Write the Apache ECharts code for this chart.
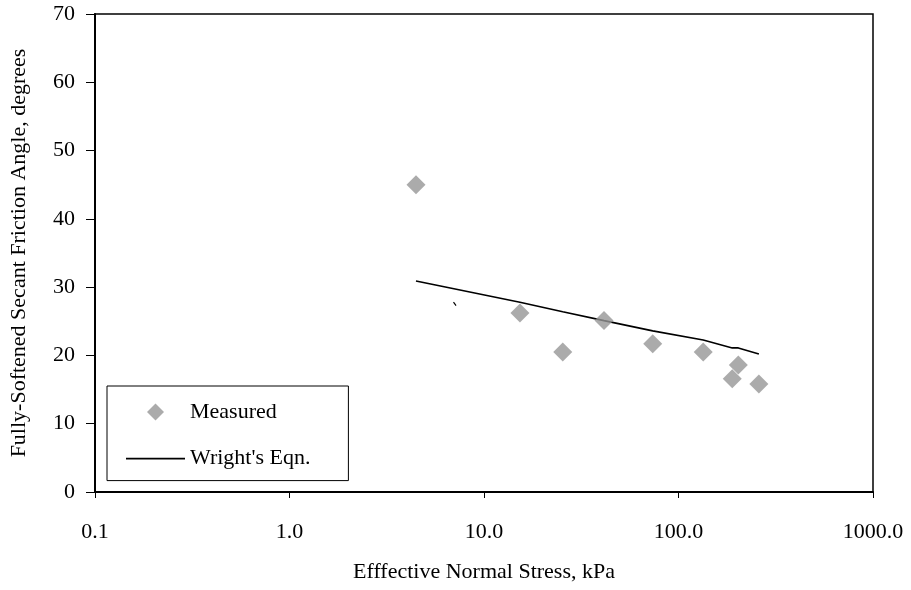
<!DOCTYPE html>
<html>
<head>
<meta charset="utf-8">
<script src="https://cdn.jsdelivr.net/npm/echarts@6/dist/echarts.min.js"></script>
<style>html,body{margin:0;padding:0;background:#fff;}#c{width:911px;height:590px;}</style>
</head>
<body>
<div id="c"></div>
<script>
// Measured data (effective normal stress kPa, secant friction angle deg)
var measuredX = [4.47, 15.3, 25.4, 41.4, 73.7, 134, 203, 189, 259];
var measuredY = [45.0, 26.2, 20.5, 25.1, 21.7, 20.5, 18.6, 16.6, 15.8];
// Wright's equation curve
var wrightX = [4.47, 15.3, 25.4, 41.4, 73.7, 134, 189, 203, 259];
var wrightY = [30.9, 27.8, 26.4, 25.1, 23.6, 22.25, 21.1, 21.1, 20.2];
// small stray stroke in the original
var strayX = [6.97, 7.18];
var strayY = [27.8, 27.3];
var xTickValues = [0.1, 1, 10, 100, 1000];
var xTickLabels = ['0.1', '1.0', '10.0', '100.0', '1000.0'];
var yTickLabels = ['0', '10', '20', '30', '40', '50', '60', '70'];

function zip(a, b) { return a.map(function (v, i) { return [v, b[i]]; }); }

var font = 'Liberation Serif';
var chart = echarts.init(document.getElementById('c'), null, { renderer: 'canvas' });
chart.setOption({
  animation: false,
  backgroundColor: '#fff',
  textStyle: { fontFamily: font, color: '#000' },
  grid: {
    left: 95, right: 38, top: 14, bottom: 98,
    show: true, borderColor: '#000', borderWidth: 1.5, backgroundColor: 'transparent'
  },
  legend: {
    orient: 'vertical',
    left: 107, top: 386,
    data: [
      { name: 'Measured', icon: 'path://M0,-1 L1,0 L0,1 L-1,0 Z' },
      { name: "Wright's Eqn.", icon: 'path://M0,0 L59,0 L59,1.6 L0,1.6 Z' }
    ],
    symbolKeepAspect: true,
    backgroundColor: '#fff',
    borderColor: '#000', borderWidth: 1,
    padding: [15, 38, 11, 19],
    itemGap: 24.6,
    itemWidth: 59, itemHeight: 17,
    textStyle: { fontFamily: font, fontSize: 22, lineHeight: 22, color: '#000' }
  },
  xAxis: {
    type: 'log', logBase: 10, min: 0.1, max: 1000,
    name: 'Efffective Normal Stress, kPa',
    nameLocation: 'middle', nameGap: 69,
    nameTextStyle: { fontFamily: font, fontSize: 22, color: '#000' },
    axisLine: { show: true, lineStyle: { color: '#000', width: 2 } },
    axisTick: { show: true, length: 6, lineStyle: { color: '#000', width: 1 } },
    minorTick: { show: false },
    splitLine: { show: false },
    axisLabel: {
      margin: 29, fontFamily: font, fontSize: 22, color: '#000',
      formatter: function (v) {
        for (var i = 0; i < xTickValues.length; i++) {
          if (Math.abs(Math.log10(v) - Math.log10(xTickValues[i])) < 1e-6) return xTickLabels[i];
        }
        return '';
      }
    }
  },
  yAxis: {
    type: 'value', min: 0, max: 70, interval: 10,
    name: 'Fully-Softened Secant Friction Angle, degrees',
    nameLocation: 'middle', nameGap: 65,
    nameTextStyle: { fontFamily: font, fontSize: 22, color: '#000' },
    axisLine: { show: true, lineStyle: { color: '#000', width: 2 } },
    axisTick: { show: true, length: 9, lineStyle: { color: '#000', width: 1 } },
    splitLine: { show: false },
    axisLabel: {
      margin: 20, fontFamily: font, fontSize: 22, color: '#000',
      formatter: function (v) { return yTickLabels[Math.round(v / 10)]; }
    }
  },
  series: [
    {
      name: 'Measured', type: 'scatter',
      symbol: 'diamond', symbolSize: 19, symbolKeepAspect: true,
      itemStyle: { color: '#969696' },
      data: zip(measuredX, measuredY), z: 3
    },
    {
      name: "Wright's Eqn.", type: 'line',
      symbol: 'none', showSymbol: false,
      lineStyle: { color: '#000', width: 1.6 },
      itemStyle: { color: '#000' },
      data: zip(wrightX, wrightY), z: 2
    },
    {
      name: 'stray', type: 'line',
      symbol: 'none', showSymbol: false,
      lineStyle: { color: '#000', width: 1.2 },
      data: zip(strayX, strayY), z: 2
    }
  ]
});
</script>
</body>
</html>
